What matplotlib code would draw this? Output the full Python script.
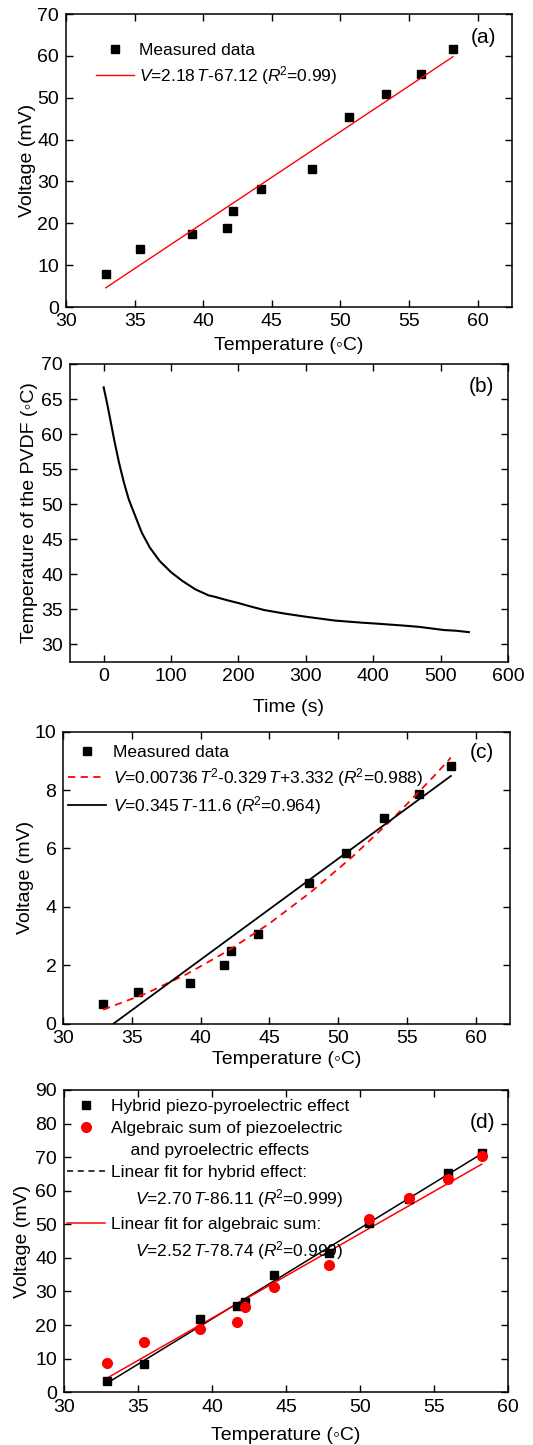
import matplotlib
matplotlib.use("Agg")
import matplotlib.pyplot as plt
from matplotlib.lines import Line2D

plt.rcParams["font.family"] = ["Liberation Sans", "DejaVu Sans"]
plt.rcParams["mathtext.fontset"] = "custom"
plt.rcParams["mathtext.rm"] = "Liberation Sans"
plt.rcParams["mathtext.it"] = "Liberation Sans:italic"
plt.rcParams["font.size"] = 14

# shared temperatures of the measurements (deg C)
temp = [32.9, 35.4, 39.2, 41.7, 42.2, 44.2, 47.9, 50.6, 53.3, 55.9, 58.2]

# (a) measured voltage and linear fit
volt_a = [7.96, 13.8, 17.4, 18.8, 22.9, 28.3, 33.0, 45.5, 50.8, 55.6, 61.6]
fit_a_t = [32.9, 58.2]
fit_a_v = [4.6, 59.8]

# (b) PVDF cooling curve
time_b = [0, 5.8, 10.6, 16.4, 22.7, 30, 37.2, 46.9, 56.5, 68.6, 83.1, 100,
          116.9, 136.2, 155.6, 164.7, 183.5, 200, 218.5, 238.5, 268.5, 300,
          343.5, 383.5, 400, 443.5, 468.5, 505, 523.5, 542]
temp_b = [66.67, 64.05, 61.67, 58.8, 55.95, 53.1, 50.7, 48.3, 45.95, 43.8,
          41.9, 40.3, 39.05, 37.85, 37.0, 36.8, 36.3, 35.9, 35.4, 34.9, 34.4,
          33.95, 33.4, 33.1, 33.0, 32.7, 32.5, 32.05, 31.95, 31.75]

# (c) measured voltage, quadratic and linear fits
volt_c = [0.67, 1.10, 1.39, 2.00, 2.48, 3.07, 4.83, 5.83, 7.03, 7.85, 8.82]
quad_c_t = [32.9, 36, 39, 42, 45, 48, 51, 54, 57, 58.2]
quad_c_v = [0.48, 1.03, 1.70, 2.50, 3.43, 4.50, 5.70, 7.03, 8.49, 9.11]
lin_c_t = [33.65, 58.2]
lin_c_v = [0.0, 8.48]

# (d) hybrid effect vs algebraic sum
volt_d_hybrid = [3.4, 8.3, 21.9, 25.8, 26.8, 34.9, 41.6, 50.3, 57.5, 65.3, 71.3]
volt_d_sum = [8.7, 15.0, 18.9, 20.8, 25.4, 31.4, 38.0, 51.5, 57.9, 63.5, 70.3]
fit_d_t = [32.9, 58.2]
fit_d_hybrid = [2.7, 71.0]
fit_d_sum = [4.2, 67.9]

fig = plt.figure(figsize=(5.33, 14.45), dpi=100)
ax_a = fig.add_axes([0.1238, 0.7875, 0.8368, 0.2028])
ax_b = fig.add_axes([0.1313, 0.5419, 0.8218, 0.2062])
ax_c = fig.add_axes([0.1188, 0.2916, 0.8380, 0.2021])
ax_d = fig.add_axes([0.1201, 0.0365, 0.8336, 0.2092])

LEG = 12.5
R2 = r"$R^{\!2}$"


def style(ax, xticks, yticks, xlim, ylim):
    ax.set_xlim(*xlim)
    ax.set_ylim(*ylim)
    ax.set_xticks(xticks)
    ax.set_yticks(yticks)
    ax.tick_params(direction="in", length=5, width=1, top=True, right=True,
                   labelsize=14)
    ax.tick_params(axis="x", pad=4.5)
    ax.tick_params(axis="y", pad=5)
    for s in ax.spines.values():
        s.set_linewidth(1.1)


deg_label = "Temperature (\u25e6C)"

# (a)
ax_a.plot(temp, volt_a, "s", color="black", ms=6, label="Measured data")
ax_a.plot(fit_a_t, fit_a_v, color="red", lw=1.0,
          label=r"$V$=2.18$\,T$-67.12 (" + R2 + "=0.99)")
style(ax_a, range(30, 61, 5), range(0, 71, 10), (30, 62.5), (0, 70))
ax_a.set_xlabel(deg_label, labelpad=4.6)
ax_a.set_ylabel("Voltage (mV)", labelpad=1)
ax_a.legend(loc="upper left", bbox_to_anchor=(0.067, 0.90), frameon=False,
            fontsize=LEG, handlelength=2.2, handletextpad=0.3,
            labelspacing=0.3, borderaxespad=0, borderpad=0)
ax_a.text(0.935, 0.92, "(a)", transform=ax_a.transAxes, fontsize=15,
          ha="center", va="center")

# (b)
ax_b.plot(time_b, temp_b, color="black", lw=1.5)
style(ax_b, range(0, 601, 100), range(30, 71, 5), (-50, 600), (27.5, 70))
ax_b.set_xlabel("Time (s)", labelpad=10)
ax_b.set_ylabel("Temperature of the PVDF (\u25e6C)", labelpad=2)
ax_b.text(0.94, 0.923, "(b)", transform=ax_b.transAxes, fontsize=15,
          ha="center", va="center")

# (c)
ax_c.plot(temp, volt_c, "s", color="black", ms=6, label="Measured data")
ax_c.plot(quad_c_t, quad_c_v, color="red", lw=1.3, ls=(0, (4, 3)),
          label=r"$V$=0.00736$\,T^{\!2}$-0.329$\,T$+3.332 (" + R2 + "=0.988)")
ax_c.plot(lin_c_t, lin_c_v, color="black", lw=1.3,
          label=r"$V$=0.345$\,T$-11.6 (" + R2 + "=0.964)")
style(ax_c, range(30, 61, 5), range(0, 11, 2), (30, 62.5), (0, 10))
ax_c.set_xlabel(deg_label, labelpad=3)
ax_c.set_ylabel("Voltage (mV)", labelpad=0.5)
ax_c.legend(loc="upper left", bbox_to_anchor=(0.01, 0.953), frameon=False,
            fontsize=LEG, handlelength=2.2, handletextpad=0.4,
            labelspacing=0.3, borderaxespad=0, borderpad=0)
ax_c.text(0.937, 0.93, "(c)", transform=ax_c.transAxes, fontsize=15,
          ha="center", va="center")

# (d)
ax_d.plot(fit_d_t, fit_d_hybrid, color="black", lw=1.1)
ax_d.plot(fit_d_t, fit_d_sum, color="red", lw=1.1)
ax_d.plot(temp, volt_d_hybrid, "s", color="black", ms=6)
ax_d.plot(temp, volt_d_sum, "o", color="red", ms=7)
style(ax_d, range(30, 61, 5), range(0, 91, 10), (30, 60), (0, 90))
ax_d.set_xlabel(deg_label, labelpad=8)
ax_d.set_ylabel("Voltage (mV)", labelpad=3)
blank = Line2D([], [], ls="none")
handles = [
    Line2D([], [], ls="none", marker="s", color="black", ms=6),
    Line2D([], [], ls="none", marker="o", color="red", ms=7),
    blank,
    Line2D([], [], color="black", lw=1.1, ls=(0, (4, 3))),
    blank,
    Line2D([], [], color="red", lw=1.1),
    blank,
]
labels = [
    "Hybrid piezo-pyroelectric effect",
    "Algebraic sum of piezoelectric",
    "    and pyroelectric effects",
    "Linear fit for hybrid effect:",
    "     $V$=2.70$\\,T$-86.11 (" + R2 + "=0.999)",
    "Linear fit for algebraic sum:",
    "     $V$=2.52$\\,T$-78.74 (" + R2 + "=0.999)",
]
ax_d.legend(handles, labels, loc="upper left",
            bbox_to_anchor=(0.007, 0.972), frameon=False,
            fontsize=LEG, handlelength=2.2, handletextpad=0.3,
            labelspacing=0.4, borderaxespad=0, borderpad=0)
ax_d.text(0.941, 0.894, "(d)", transform=ax_d.transAxes, fontsize=15,
          ha="center", va="center")

fig.savefig("out.png", dpi=100)
